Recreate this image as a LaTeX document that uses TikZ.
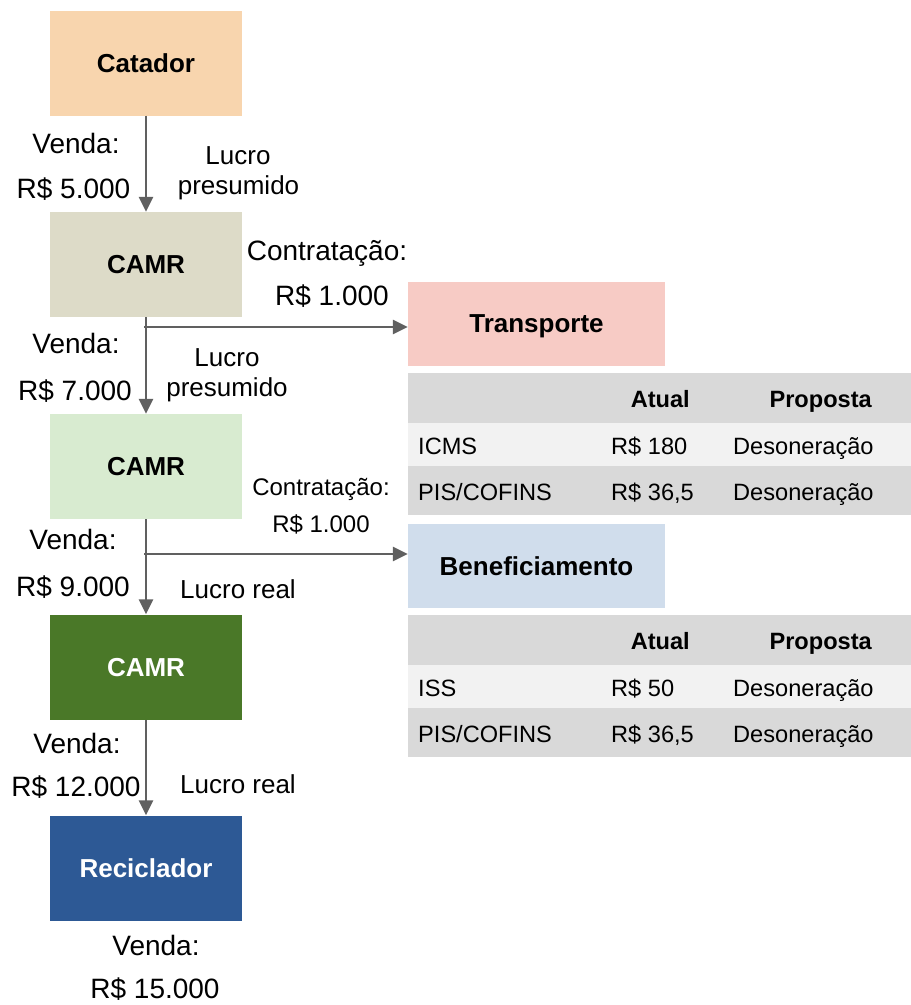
\documentclass[tikz,border=0pt]{standalone}
\usepackage{fontspec}
\setmainfont{Liberation Sans}
\usetikzlibrary{arrows.meta}
\definecolor{catcol}{HTML}{F8D5AE}
\definecolor{camrone}{HTML}{DDDBC8}
\definecolor{camrtwo}{HTML}{D8EBD0}
\definecolor{camrthree}{HTML}{4A7828}
\definecolor{reccol}{HTML}{2D5995}
\definecolor{tracol}{HTML}{F7CBC5}
\definecolor{bencol}{HTML}{D0DDEC}
\definecolor{hdrgray}{HTML}{D9D9D9}
\definecolor{rowgray}{HTML}{F2F2F2}
\definecolor{arrgray}{HTML}{606060}
\begin{document}
\begin{tikzpicture}[x=1pt,y=-1pt,
    stage/.style={minimum width=192pt,minimum height=105pt,inner sep=0pt,
      text height=18.7pt,text depth=0pt,font=\fontsize{26}{30}\selectfont\bfseries},
    service/.style={minimum width=257pt,minimum height=84pt,inner sep=0pt,
      text height=18.7pt,text depth=0pt,font=\fontsize{26}{30}\selectfont\bfseries},
    lblbig/.style={inner sep=0pt,text height=20pt,text depth=0pt,font=\fontsize{28}{32}\selectfont},
    lblmid/.style={inner sep=0pt,text height=18.7pt,text depth=0pt,font=\fontsize{26}{30}\selectfont},
    lblsmall/.style={inner sep=0pt,text height=17.2pt,text depth=0pt,font=\fontsize{24}{28}\selectfont},
    cell/.style={inner sep=0pt,text height=17pt,text depth=0pt,font=\fontsize{23.6}{28}\selectfont},
    cellbold/.style={cell,font=\fontsize{23.6}{28}\selectfont\bfseries},
    arr/.style={draw=arrgray,line width=2.6pt,-{Triangle[length=15pt,width=14pt]}}]
\useasboundingbox (0,0) rectangle (911,1005);

% chain of stages
\node[stage,fill=catcol] (catador) at (146,63) {Catador};
\node[stage,fill=camrone] (camra) at (146,264.5) {CAMR};
\node[stage,fill=camrtwo] (camrb) at (146,466.5) {CAMR};
\node[stage,fill=camrthree,text=white] (camrc) at (146,667) {CAMR};
\node[stage,fill=reccol,text=white] (reciclador) at (146,868) {Reciclador};

% services
\node[service,fill=tracol] (transporte) at (536.5,323.5) {Transporte};
\node[service,fill=bencol] (benef) at (536.5,566) {Beneficiamento};

\draw[arr] (catador) -- (camra);
\draw[arr] (camra) -- (camrb);
\draw[arr] (camrb) -- (camrc);
\draw[arr] (camrc) -- (reciclador);

\coordinate (ja) at (144,327);
\coordinate (jb) at (144,554);
\draw[arr] (ja) -- (ja -| transporte.west);
\draw[arr] (jb) -- (jb -| benef.west);

% labels along the chain
\node[lblbig] (vendaa) at (76,143) {Venda:};
\node[lblbig] (valora) at (73.5,188) {R\$ 5.000};
\node[lblmid] (lucroa) at (238,155) {Lucro};
\node[lblmid] (presa) at (238.5,185) {presumido};
\node[lblbig] (contra) at (327,250) {Contratação:};
\node[lblbig] (contrva) at (332,295) {R\$ 1.000};
\node[lblbig] (vendab) at (76,343) {Venda:};
\node[lblbig] (valorb) at (75,390) {R\$ 7.000};
\node[lblmid] (lucrob) at (227,357) {Lucro};
\node[lblmid] (presb) at (227,387) {presumido};
\node[lblsmall] (contrb) at (321,487) {Contratação:};
\node[lblsmall] (contrvb) at (321,524) {R\$ 1.000};
\node[lblbig] (vendac) at (73,539) {Venda:};
\node[lblbig] (valorc) at (73,586) {R\$ 9.000};
\node[lblmid] (lucroc) at (238,589) {Lucro real};
\node[lblbig] (vendad) at (77,743) {Venda:};
\node[lblbig] (valord) at (76,786) {R\$ 12.000};
\node[lblmid] (lucrod) at (238,784) {Lucro real};
\node[lblbig] (vendae) at (156,945) {Venda:};
\node[lblbig] (valore) at (155,988) {R\$ 15.000};

% tax tables
\foreach \t/\y/\tax/\val in {tra/373/ICMS/180,ben/615/ISS/50}{
  \fill[hdrgray] (408,\y) rectangle (911,\y+50);
  \fill[rowgray] (408,\y+50) rectangle (911,\y+93);
  \fill[hdrgray] (408,\y+93) rectangle (911,\y+142);
  \node[cellbold,anchor=east] (\t atual) at (690,\y+26) {Atual};
  \node[cellbold,anchor=east] (\t prop) at (872,\y+26) {Proposta};
  \node[cell,anchor=west] (\t tax) at (418,\y+73) {\tax};
  \node[cell,anchor=west] (\t val) at (611,\y+73) {R\$ \val};
  \node[cell,anchor=west] (\t des) at (733,\y+73) {Desoneração};
  \node[cell,anchor=west] (\t pis) at (418,\y+119) {PIS/COFINS};
  \node[cell,anchor=west] (\t pisv) at (611,\y+119) {R\$ 36,5};
  \node[cell,anchor=west] (\t pisd) at (733,\y+119) {Desoneração};
}
\end{tikzpicture}
\end{document}
